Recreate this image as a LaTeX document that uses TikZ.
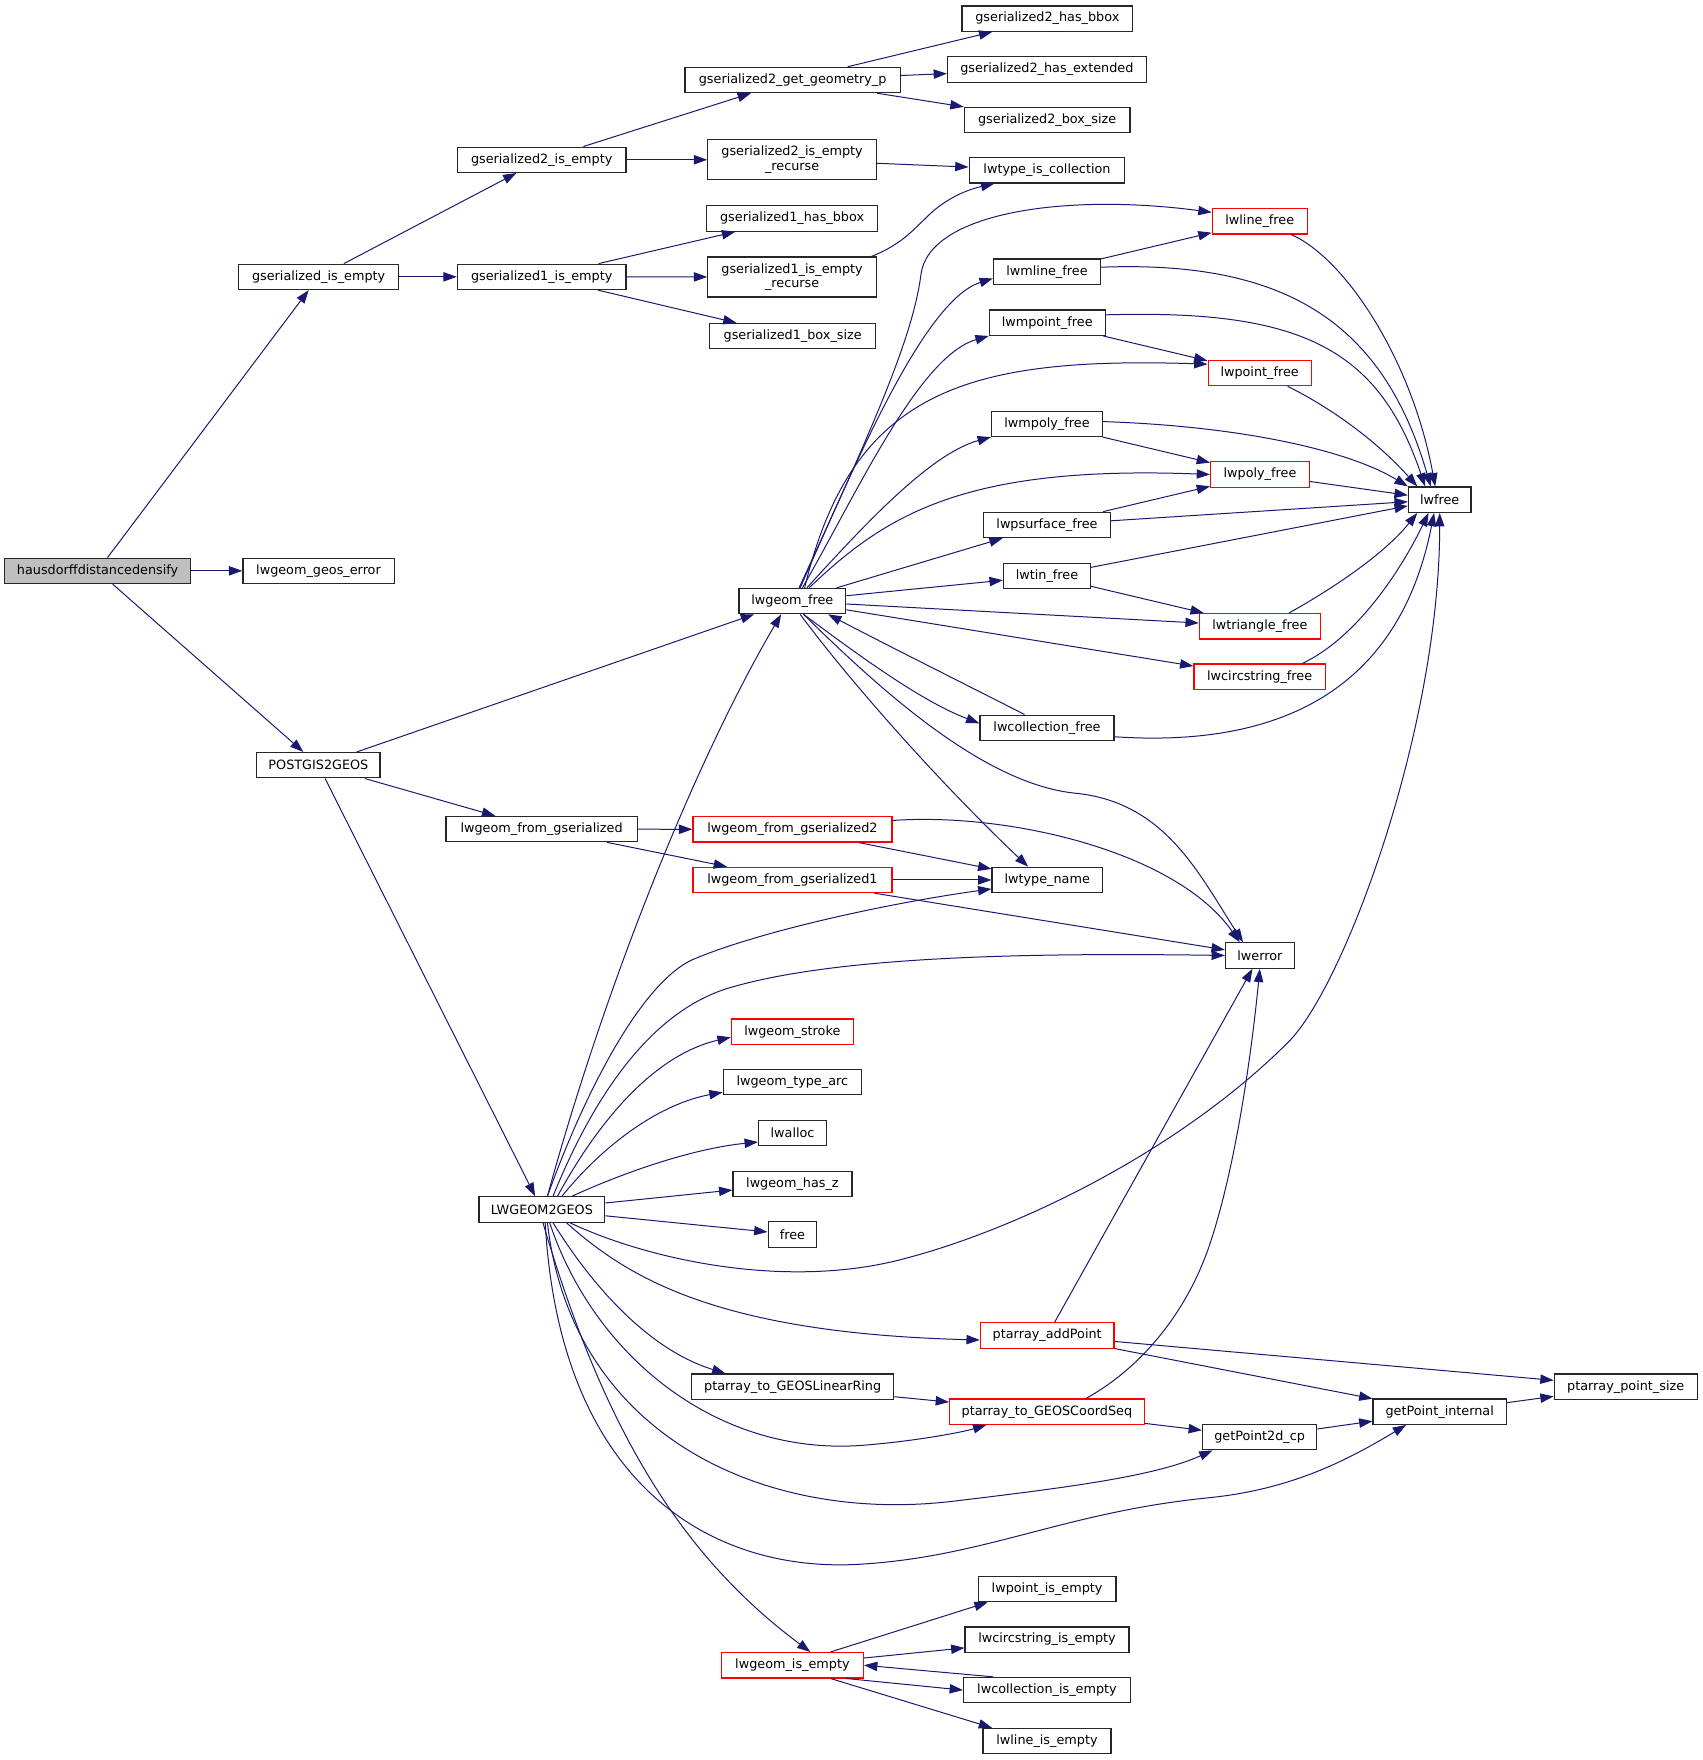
\documentclass[tikz,border=0pt]{standalone}
\usepackage{fontspec}
\setmainfont{DejaVu Sans}
\usetikzlibrary{arrows.meta}
\definecolor{edgec}{RGB}{25,25,112}
\definecolor{nodegray}{RGB}{191,191,191}
\begin{document}
\begin{tikzpicture}[x=0.8403pt,y=-0.8403pt,
  box/.style={draw=black!85, line width=0.9pt, rectangle, inner sep=0pt, minimum height=19pt, font=\fontsize{9.6}{10.9}\selectfont, fill=white},
  redbox/.style={box, draw=red},
  wd/.style={minimum width=#1*0.8403pt},
  two/.style={align=center, minimum height=30pt},
  e/.style={draw=edgec, line width=0.75pt, -{Triangle[length=10pt,width=7pt]}}]
\useasboundingbox (0,0) rectangle (1520,1570.9);
% column 1-3
\node[box,wd=166,fill=nodegray] (H) at (87.1,509.5) {hausdorffdistancedensify};
\node[box,wd=135] (LGE) at (284.3,509.5) {lwgeom\_geos\_error};
\node[box,wd=143.2] (GIE) at (284.4,247.1) {gserialized\_is\_empty};
\node[box,wd=110] (P) at (284.2,683) {POSTGIS2GEOS};
\node[box,wd=150.5] (GIE2) at (483.5,142.6) {gserialized2\_is\_empty};
\node[box,wd=150.5] (GIE1) at (483.5,247.1) {gserialized1\_is\_empty};
\node[box,wd=170.7] (LFG) at (483.4,740) {lwgeom\_from\_gserialized};
\node[box,wd=112.3] (L) at (483.6,1079.5) {LWGEOM2GEOS};
% column 4
\node[box,wd=192.3] (GGP) at (707.5,71.4) {gserialized2\_get\_geometry\_p};
\node[box,wd=150.5,two] (GIE2R) at (707,142.6) {gserialized2\_is\_empty\\\_recurse};
\node[box,wd=152.7] (GH1B) at (707,195) {gserialized1\_has\_bbox};
\node[box,wd=150.5,two] (GIE1R) at (707,247.2) {gserialized1\_is\_empty\\\_recurse};
\node[box,wd=147.9] (GBS1) at (707.5,300) {gserialized1\_box\_size};
\node[box,wd=95.3] (LF) at (707.2,536.5) {lwgeom\_free};
\node[redbox,wd=177.7] (LFG2) at (707.3,740.3) {lwgeom\_from\_gserialized2};
\node[redbox,wd=177.7] (LFG1) at (707.3,785.4) {lwgeom\_from\_gserialized1};
\node[redbox,wd=108.9] (LGS) at (707.2,920.8) {lwgeom\_stroke};
\node[box,wd=123.3] (LGTA) at (707.2,965.9) {lwgeom\_type\_arc};
\node[box,wd=60.8] (LA) at (707.4,1011.3) {lwalloc};
\node[box,wd=106.2] (LGHZ) at (707.3,1056.7) {lwgeom\_has\_z};
\node[box,wd=43.4] (FREE) at (707.3,1101.8) {free};
\node[box,wd=180.4] (PTLR) at (707.5,1237.7) {ptarray\_to\_GEOSLinearRing};
\node[redbox,wd=126.7] (LGIE) at (707.3,1486.3) {lwgeom\_is\_empty};
% column 5
\node[box,wd=152.4] (GH2B) at (934.8,16.6) {gserialized2\_has\_bbox};
\node[box,wd=177.3] (GH2E) at (934.4,62) {gserialized2\_has\_extended};
\node[box,wd=147.9] (GBS2) at (934.6,107) {gserialized2\_box\_size};
\node[box,wd=139] (LTIC) at (934.5,152) {lwtype\_is\_collection};
\node[box,wd=95.6] (LMLF) at (934.5,242.5) {lwmline\_free};
\node[box,wd=103.4] (LMPF) at (934.7,288) {lwmpoint\_free};
\node[box,wd=99] (LMPOF) at (934.5,378.3) {lwmpoly\_free};
\node[box,wd=113.4] (LPSF) at (934.5,468.5) {lwpsurface\_free};
\node[box,wd=77.8] (LTF) at (934.5,514) {lwtin\_free};
\node[box,wd=119.6] (LCF) at (934.5,649.6) {lwcollection\_free};
\node[box,wd=98.6] (LTN) at (934.7,785.4) {lwtype\_name};
\node[redbox,wd=119.3] (PAP) at (934.7,1192) {ptarray\_addPoint};
\node[redbox,wd=173.6] (PTCS) at (934.4,1260) {ptarray\_to\_GEOSCoordSeq};
\node[box,wd=122.9] (LPIE) at (934.6,1418.3) {lwpoint\_is\_empty};
\node[box,wd=146.3] (LCIE) at (934.5,1463.4) {lwcircstring\_is\_empty};
\node[box,wd=148.9] (LCOE) at (934.5,1508.5) {lwcollection\_is\_empty};
\node[box,wd=114.2] (LLIE) at (934.5,1554) {lwline\_is\_empty};
% column 6-8
\node[redbox,wd=84.8] (LLF) at (1124.4,197.5) {lwline\_free};
\node[redbox,wd=92] (LPF) at (1124.3,333) {lwpoint\_free};
\node[redbox,wd=88.1] (LPOF) at (1124.6,423.5) {lwpoly\_free};
\node[redbox,wd=108] (LTRF) at (1124.5,559) {lwtriangle\_free};
\node[redbox,wd=117.2] (LCSF) at (1124.3,604) {lwcircstring\_free};
\node[box,wd=61.4] (LE) at (1124.5,852.8) {lwerror};
\node[box,wd=101.9] (GP2) at (1124.3,1282.7) {getPoint2d\_cp};
\node[box,wd=55.8] (LWF) at (1285,446) {lwfree};
\node[box,wd=118.9] (GPI) at (1285,1260) {getPoint\_internal};
\node[box,wd=127.5] (PPS) at (1451,1237.7) {ptarray\_point\_size};

% straight edges
\draw[e] (H) -- (GIE);
\draw[e] (H) -- (LGE);
\draw[e] (H) -- (P);
\draw[e] (GIE) -- (GIE2);
\draw[e] (GIE) -- (GIE1);
\draw[e] (GIE2) -- (GGP);
\draw[e] (GIE2) -- (GIE2R);
\draw[e] (GGP) -- (GH2B);
\draw[e] (GGP) -- (GH2E);
\draw[e] (GGP) -- (GBS2);
\draw[e] (GIE2R) -- (LTIC);
\draw[e] (GIE1) -- (GH1B);
\draw[e] (GIE1) -- (GIE1R);
\draw[e] (GIE1) -- (GBS1);
\draw[e] (P) -- (LF);
\draw[e] (P) -- (LFG);
\draw[e] (P) -- (L);
\draw[e] (LFG) -- (LFG2);
\draw[e] (LFG) -- (LFG1);
\draw[e] (LFG2) -- (LTN);
\draw[e] (LFG1) -- (LTN);
\draw[e] (LFG1) -- (LE);
\draw[e] (LF) -- (LPSF);
\draw[e] (LF) -- (LTF);
\draw[e] (LF) -- (LTRF);
\draw[e] (LF) -- (LCSF);
\draw[e] (LMLF) -- (LLF);
\draw[e] (LMPF) -- (LPF);
\draw[e] (LMPOF) -- (LPOF);
\draw[e] (LPSF) -- (LPOF);
\draw[e] (LPSF) -- (LWF);
\draw[e] (LPOF) -- (LWF);
\draw[e] (LTF) -- (LWF);
\draw[e] (LTF) -- (LTRF);
\draw[e] (L) -- (LGHZ);
\draw[e] (L) -- (FREE);
\draw[e] (PTLR) -- (PTCS);
\draw[e] (PTCS) -- (GP2);
\draw[e] (GP2) -- (GPI);
\draw[e] (GPI) -- (PPS);
\draw[e] (PAP) -- (LE);
\draw[e] (PAP) -- (PPS);
\draw[e] (PAP) -- (GPI);
\draw[e] ([shift={(34,0)}]LGIE.north) -- ([shift={(-53,0)}]LPIE.south);
\draw[e] (LGIE) -- (LCIE);
\draw[e] ([shift={(-48,0)}]LCOE.north) -- (LGIE.east);
\draw[e] ([shift={(48,0)}]LGIE.south) -- (LCOE.west);
\draw[e] ([shift={(34,0)}]LGIE.south) -- ([shift={(-49,0)}]LLIE.north);

% curved edges
\draw[e] ([shift={(71,0)}]GIE1R.north) .. controls (805,218) and (815,205) .. (826,195) .. controls (840,180) and (860,170) .. ([shift={(-47,0)}]LTIC.south);
\draw[e] ([shift={(6,0)}]LF.north) .. controls (780,380) and (815,300) .. (822,245) .. controls (829,190) and (950,172) .. ([shift={(0,-8)}]LLF.west);
\draw[e] ([shift={(7,0)}]LF.north) .. controls (765,410) and (825,268) .. ([shift={(0,6)}]LMLF.west);
\draw[e] ([shift={(9,0)}]LF.north) .. controls (765,440) and (820,318) .. (LMPF.south west);
\draw[e] ([shift={(11,0)}]LF.north) .. controls (760,350) and (860,318) .. ([shift={(0,-8)}]LPF.west);
\draw[e] ([shift={(13,0)}]LF.north) .. controls (770,470) and (830,405) .. (LMPOF.south west);
\draw[e] ([shift={(15,0)}]LF.north) .. controls (790,460) and (860,415) .. (LPOF.west);
\draw[e] ([shift={(10,0)}]LF.south) .. controls (760,580) and (820,625) .. ([shift={(0,-4)}]LCF.west);
\draw[e] ([shift={(-20,0)}]LCF.north) .. controls (870,615) and (790,575) .. ([shift={(32,0)}]LF.south);
\draw[e] ([shift={(7,0)}]LF.south) .. controls (760,610) and (840,700) .. ([shift={(-17,0)}]LTN.north);
\draw[e] ([shift={(10,0)}]LF.south) .. controls (790,620) and (880,700) .. (960,708) .. controls (1040,716) and (1070,780) .. ([shift={(-15,0)}]LE.north);
\draw[e] ([shift={(0,-4)}]LMLF.east) .. controls (1150,232) and (1235,290) .. ([shift={(-8,0)}]LWF.north);
\draw[e] ([shift={(0,-7)}]LMPF.east) .. controls (1160,276) and (1230,310) .. ([shift={(-13,0)}]LWF.north);
\draw[e] ([shift={(28,0)}]LLF.south) .. controls (1200,230) and (1260,320) .. ([shift={(-4,0)}]LWF.north);
\draw[e] ([shift={(25,0)}]LPF.south) .. controls (1190,365) and (1230,395) .. ([shift={(-20,0)}]LWF.north);
\draw[e] ([shift={(0,-2)}]LMPOF.east) .. controls (1100,380) and (1200,400) .. (LWF.north west);
\draw[e] ([shift={(26,0)}]LTRF.north) .. controls (1190,525) and (1235,495) .. ([shift={(-20,0)}]LWF.south);
\draw[e] ([shift={(38,0)}]LCSF.north) .. controls (1210,570) and (1250,510) .. ([shift={(-10,0)}]LWF.south);
\draw[e] ([shift={(0,8)}]LCF.east) .. controls (1150,668) and (1250,610) .. ([shift={(-5,0)}]LWF.south);
\draw[e] ([shift={(25,0)}]L.south) .. controls (580,1125) and (700,1150) .. (801,1125) .. controls (902,1100) and (1050,1030) .. (1150,930) .. controls (1200,880) and (1285,650) .. (LWF.south);
\draw[e] ([shift={(0,-8)}]LFG2.east) .. controls (900,725) and (1050,760) .. ([shift={(-18,0)}]LE.north);
\draw[e] ([shift={(10,0)}]L.north) .. controls (525,990) and (575,905) .. (650,882) .. controls (740,855) and (900,850) .. (LE.west);
\draw[e] ([shift={(5,0)}]L.north) .. controls (520,980) and (570,880) .. (617,857) .. controls (680,830) and (800,805) .. ([shift={(0,8)}]LTN.west);
\draw[e] ([shift={(14,0)}]L.north) .. controls (540,990) and (590,940) .. ([shift={(0,5)}]LGS.west);
\draw[e] ([shift={(18,0)}]L.north) .. controls (540,1020) and (590,985) .. ([shift={(0,9)}]LGTA.west);
\draw[e] ([shift={(27,0)}]L.north) .. controls (560,1045) and (620,1025) .. ([shift={(0,8)}]LA.west);
\draw[e] ([shift={(5,0)}]L.north) .. controls (540,880) and (620,680) .. ([shift={(-10,0)}]LF.south);
\draw[e] ([shift={(22,0)}]L.south) .. controls (560,1140) and (640,1190) .. ([shift={(0,4)}]PAP.west);
\draw[e] ([shift={(10,0)}]L.south) .. controls (530,1150) and (580,1205) .. ([shift={(-60,0)}]PTLR.north);
\draw[e] ([shift={(7,0)}]L.south) .. controls (530,1210) and (640,1300) .. (770,1290) .. controls (820,1286) and (860,1278) .. ([shift={(-54,0)}]PTCS.south);
\draw[e] ([shift={(5,0)}]L.south) .. controls (510,1280) and (680,1360) .. (850,1340) .. controls (950,1328) and (1030,1318) .. ([shift={(-42,0)}]GP2.south);
\draw[e] ([shift={(3,0)}]L.south) .. controls (500,1330) and (640,1405) .. (770,1396) .. controls (880,1389) and (950,1350) .. (1077,1337) .. controls (1150,1330) and (1200,1305) .. ([shift={(-30,0)}]GPI.south);
\draw[e] ([shift={(1,0)}]L.south) .. controls (540,1280) and (610,1390) .. ([shift={(16,0)}]LGIE.north);
\draw[e] ([shift={(35,0)}]PTCS.north) .. controls (1020,1220) and (1060,1170) .. (1080,1110) .. controls (1100,1050) and (1115,960) .. (LE.south);
\end{tikzpicture}
\end{document}
